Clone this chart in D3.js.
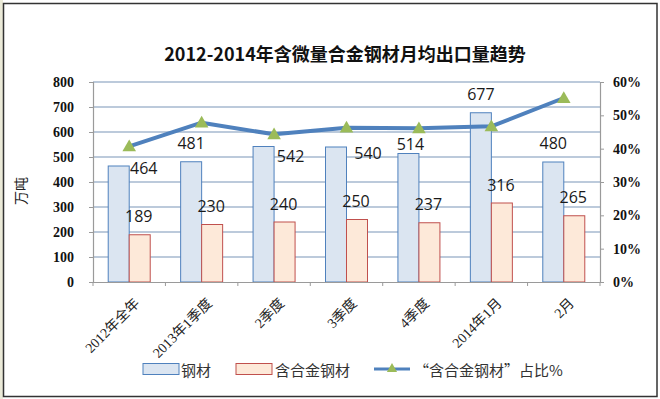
<!DOCTYPE html>
<html><head><meta charset="utf-8">
<script src="https://cdn.jsdelivr.net/npm/d3@7/dist/d3.min.js"></script>
<style>
html,body{margin:0;padding:0;background:#fff;}
svg{display:block;}
</style></head>
<body>
<svg id="chart" width="660" height="399"></svg>
<script>
// ---- data ----
const categories = ["2012年全年","2013年1季度","2季度","3季度","4季度","2014年1月","2月"];
const steel = [464, 481, 542, 540, 514, 677, 480];
const alloySteel = [189, 230, 240, 250, 237, 316, 265];
const alloyShare = [40.7, 47.8, 44.3, 46.3, 46.1, 46.7, 55.2];
const leftTicks = [0,100,200,300,400,500,600,700,800];
const rightTicks = [0,10,20,30,40,50,60];
const seriesNames = ["钢材","含合金钢材","“含合金钢材”占比%"];
const titleText = "2012-2014年含微量合金钢材月均出口量趋势";
const yTitle = "万吨";
// manual nudges of the steel data labels (as in the original chart)
const steelLabelNudge = [[25,21],[0,0],[27,28],[32,25],[2,9],[0,0],[0,0]];

const svg = d3.select("#chart");
const W = 660, H = 399;
const m = {left:93, right:60, top:82, bottom:117};
const pw = W - m.left - m.right, ph = H - m.top - m.bottom;
const serif = "'Liberation Serif','Times New Roman','DejaVu Serif','Noto Sans CJK SC',serif";

// frame
svg.append("rect").attr("x",0).attr("y",0).attr("width",3).attr("height",H).attr("fill","#ebead8");
svg.append("rect").attr("x",3.5).attr("y",3.5).attr("width",653.5).attr("height",393).attr("fill","#fff")
  .attr("stroke","#333").attr("stroke-width",1.5);

const x = d3.scaleBand().domain(categories).range([m.left, m.left+pw]).paddingInner(0).paddingOuter(0);
const yL = d3.scaleLinear().domain([0,800]).range([m.top+ph, m.top]);
const yR = d3.scaleLinear().domain([0,60]).range([m.top+ph, m.top]);
const barW = 21;

// title
svg.append("text").attr("x",345).attr("y",53).attr("text-anchor","middle").attr("dominant-baseline","central")
  .attr("font-family","'Noto Sans CJK SC', sans-serif").attr("font-weight",700).attr("font-size",18)
  .attr("fill","#111").text(titleText);

// gridlines
svg.append("g").selectAll("line").data(leftTicks.slice(1)).join("line")
  .attr("x1",m.left).attr("x2",m.left+pw).attr("y1",d=>yL(d)).attr("y2",d=>yL(d))
  .attr("stroke","#bccadb").attr("stroke-width",2);

// left axis
const gL = svg.append("g").attr("transform",`translate(${m.left},0)`)
  .call(d3.axisLeft(yL).tickValues(leftTicks).tickSize(4).tickPadding(15));
gL.attr("font-family",serif);
gL.select(".domain").attr("stroke","#9a9a9a").attr("stroke-width",1.2);
gL.selectAll(".tick line").attr("stroke","#9a9a9a");
gL.selectAll("text").style("font-family",serif).attr("font-weight",700).attr("font-size",14).attr("fill","#111");

// right axis
const gR = svg.append("g").attr("transform",`translate(${m.left+pw},0)`)
  .call(d3.axisRight(yR).tickValues(rightTicks).tickSize(4).tickPadding(9).tickFormat(d=>d+"%"));
gR.attr("font-family",serif);
gR.select(".domain").attr("stroke","#9a9a9a").attr("stroke-width",1.2);
gR.selectAll(".tick line").attr("stroke","#9a9a9a");
gR.selectAll("text").style("font-family",serif).attr("font-weight",700).attr("font-size",14).attr("fill","#111");

// y title
svg.append("text").attr("transform","translate(20,191) rotate(-90)").attr("text-anchor","middle").attr("dominant-baseline","central")
  .attr("font-family","'Noto Sans CJK SC', sans-serif").attr("font-size",14).attr("fill","#222").text(yTitle);

// bars
const gb = svg.append("g");
gb.selectAll("rect.s").data(steel).join("rect").attr("class","s")
  .attr("x",(d,i)=>x(categories[i])+x.bandwidth()/2-barW).attr("width",barW)
  .attr("y",d=>yL(d)).attr("height",d=>yL(0)-yL(d))
  .attr("fill","#dbe5f1").attr("stroke","#4f81bd").attr("stroke-width",1);
gb.selectAll("rect.a").data(alloySteel).join("rect").attr("class","a")
  .attr("x",(d,i)=>x(categories[i])+x.bandwidth()/2).attr("width",barW)
  .attr("y",d=>yL(d)).attr("height",d=>yL(0)-yL(d))
  .attr("fill","#fde9d9").attr("stroke","#c0504d").attr("stroke-width",1);

// x axis
const gX = svg.append("g").attr("transform",`translate(0,${m.top+ph})`)
  .call(d3.axisBottom(x).tickSize(0).tickFormat(""));
gX.select(".domain").attr("stroke","#9a9a9a").attr("stroke-width",1.2);
svg.append("g").selectAll("line").data(d3.range(categories.length+1)).join("line")
  .attr("x1",i=>m.left+i*x.step()).attr("x2",i=>m.left+i*x.step())
  .attr("y1",m.top+ph).attr("y2",m.top+ph+4).attr("stroke","#9a9a9a");
svg.append("g").selectAll("text").data(categories).join("text")
  .attr("transform",d=>`translate(${x(d)+x.bandwidth()/2+8},${m.top+ph+19}) rotate(-45)`)
  .attr("text-anchor","end").attr("dominant-baseline","central")
  .style("font-family",serif).attr("font-size",14).attr("fill","#222")
  .text(d=>d);

// line
const cx = (i)=>x(categories[i])+x.bandwidth()/2;
const line = d3.line().x((d,i)=>cx(i)).y(d=>yR(d));
svg.append("path").datum(alloyShare).attr("d",line).attr("fill","none")
  .attr("stroke","#4f81bd").attr("stroke-width",4).attr("stroke-linejoin","round");
const tri = d3.symbol().type(d3.symbolTriangle).size(80);
svg.append("g").selectAll("path").data(alloyShare).join("path")
  .attr("d",tri).attr("transform",(d,i)=>`translate(${cx(i)},${yR(d)+1})`).attr("fill","#9bbb59");

// data labels
const lblFont = "'Open Sans','Liberation Sans',sans-serif";
svg.append("g").selectAll("text").data(steel).join("text")
  .attr("x",(d,i)=>x(categories[i])+x.bandwidth()/2-barW/2+steelLabelNudge[i][0])
  .attr("y",(d,i)=>yL(d)-19+steelLabelNudge[i][1])
  .attr("text-anchor","middle").attr("dominant-baseline","central")
  .attr("font-family",lblFont).attr("font-size",16).attr("fill","#1a1a1a").text(d=>d);
svg.append("g").selectAll("text").data(alloySteel).join("text")
  .attr("x",(d,i)=>x(categories[i])+x.bandwidth()/2+barW/2-1)
  .attr("y",d=>yL(d)-18.5)
  .attr("text-anchor","middle").attr("dominant-baseline","central")
  .attr("font-family",lblFont).attr("font-size",16).attr("fill","#1a1a1a").text(d=>d);

// legend
const lg = svg.append("g").attr("font-family","'Noto Sans CJK SC', sans-serif").attr("font-size",15).attr("fill","#333");
const ly = 369;
lg.append("rect").attr("x",143).attr("y",ly-5.5).attr("width",36).attr("height",11).attr("fill","#dbe5f1").attr("stroke","#4f81bd");
lg.append("text").attr("x",181).attr("y",ly).attr("dominant-baseline","central").text(seriesNames[0]);
lg.append("rect").attr("x",236).attr("y",ly-5.5).attr("width",36).attr("height",11).attr("fill","#fde9d9").attr("stroke","#c0504d");
lg.append("text").attr("x",275).attr("y",ly).attr("dominant-baseline","central").text(seriesNames[1]);
lg.append("line").attr("x1",374).attr("x2",410).attr("y1",ly).attr("y2",ly).attr("stroke","#4f81bd").attr("stroke-width",3);
lg.append("path").attr("d",d3.symbol().type(d3.symbolTriangle).size(45)).attr("transform",`translate(392,${ly})`).attr("fill","#9bbb59");
lg.append("text").attr("x",414).attr("y",ly).attr("dominant-baseline","central").text(seriesNames[2]);
</script>
</body></html>
